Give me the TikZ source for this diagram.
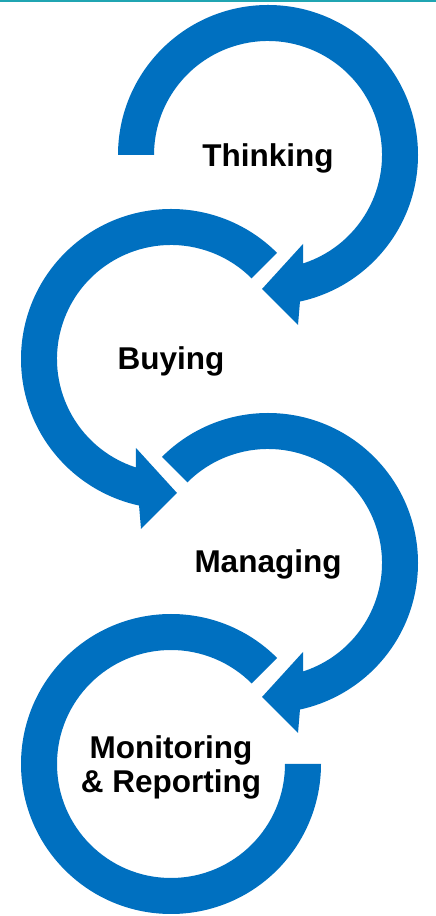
\documentclass[tikz,border=0pt]{standalone}
\usepackage{fontspec}
\setmainfont{Liberation Sans}
\usetikzlibrary{calc}
\definecolor{arrowblue}{RGB}{0,112,192}
\definecolor{topteal}{RGB}{32,165,178}
\tikzset{
  ring/.style={fill=arrowblue, draw=none},
  label/.style={font=\fontsize{31.5}{34}\selectfont\bfseries, text=black, inner sep=0pt, anchor=base, align=center}
}
\begin{document}
\begin{tikzpicture}[x=1pt,y=1pt]
\useasboundingbox (0,0) rectangle (436,916);
\fill[white] (0,0) rectangle (436,916);
\fill[topteal] (0,913.5) rectangle (436,916);
\coordinate (C1) at (268,761);
\coordinate (C2) at (171,557);
\coordinate (C3) at (268,353);
\coordinate (C4) at (171,152);
% ring 1: Thinking (clockwise, head bottom-left)
\fill[ring] ($(C1)+(180:150)$) arc[start angle=180, end angle=-77.7, radius=150]
  -- ($(C1)+(30,-170)$) -- ($(C1)+(-6,-134)$) -- ($(C1)+(35,-89)$)
  -- ($(C1)+(-72:114)$) arc[start angle=-72, end angle=180, radius=114] -- cycle;
% ring 2: Buying (counter-clockwise, head bottom-right)
\fill[ring] ($(C2)+(45:150)$) arc[start angle=45, end angle=257.7, radius=150]
  -- ($(C2)+(-30,-170)$) -- ($(C2)+(6,-134)$) -- ($(C2)+(-35,-89)$)
  -- ($(C2)+(252:114)$) arc[start angle=252, end angle=45, radius=114] -- cycle;
% ring 3: Managing
\fill[ring] ($(C3)+(135:150)$) arc[start angle=135, end angle=-77.7, radius=150]
  -- ($(C3)+(30,-170)$) -- ($(C3)+(-6,-134)$) -- ($(C3)+(35,-89)$)
  -- ($(C3)+(-72:114)$) arc[start angle=-72, end angle=135, radius=114] -- cycle;
% ring 4: Monitoring & Reporting
\fill[ring] ($(C4)+(45:150)$) arc[start angle=45, end angle=360, radius=150]
  -- ($(C4)+(0:114)$) arc[start angle=360, end angle=45, radius=114] -- cycle;
\node[label] (thinking) at ($(C1)+(0,-12)$) {Thinking};
\node[label] (buying) at ($(C2)+(0,-11)$) {Buying};
\node[label] (managing) at ($(C3)+(0,-10)$) {Managing};
\node[label] (monitoring) at ($(C4)+(0,5)$) {Monitoring};
\node[label] (reporting) at ($(C4)+(0,-29)$) {\& Reporting};
\end{tikzpicture}
\end{document}
